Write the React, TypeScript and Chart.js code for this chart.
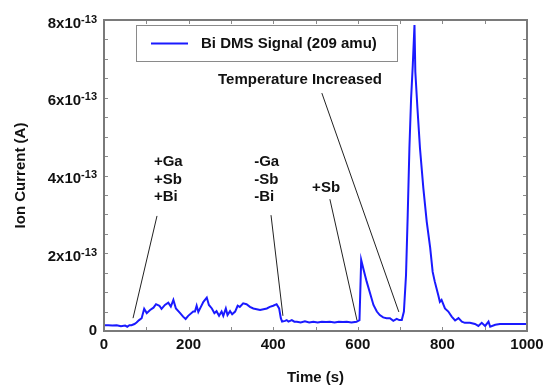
import React, { useEffect, useRef } from "react";
import { Chart, registerables } from "chart.js";

Chart.register(...registerables);

// Time in seconds
const timeSeconds = [
  0, 10, 20, 30, 40, 50, 55, 60, 65, 72, 77, 83, 89, 95, 101, 109, 117, 123, 131, 136,
  144, 152, 158, 164, 170, 180, 187, 193, 199, 211, 215, 219, 223, 229, 235, 243, 248, 255, 261, 266,
  272, 278, 282, 288, 292, 298, 303, 310, 316, 321, 329, 337, 345, 353, 361, 369, 377, 385, 392, 400,
  408, 414, 418, 421, 428, 432, 436, 444, 450, 456, 465, 475, 485, 495, 505, 515, 525, 534, 545, 555,
  565, 574, 585, 597, 604, 608, 613, 621, 629, 637, 645, 652, 660, 668, 676, 684, 692, 698, 704, 709,
  714, 718, 722, 726, 730, 734, 736, 741, 747, 755, 763, 771, 777, 782, 790, 794, 798, 806, 814, 822,
  830, 838, 846, 853, 865, 877, 885, 893, 901, 909, 913, 925, 936, 944, 960, 980, 1000,
];

// Ion current in units of 1e-13 A
const ionCurrentE13 = [
  0.15, 0.15, 0.14, 0.15, 0.12, 0.14, 0.11, 0.15, 0.15, 0.18, 0.22, 0.28, 0.33, 0.57, 0.46, 0.54, 0.6, 0.69, 0.65, 0.57,
  0.67, 0.73, 0.63, 0.8, 0.58, 0.46, 0.37, 0.31, 0.39, 0.5, 0.5, 0.65, 0.49, 0.62, 0.75, 0.86, 0.67, 0.58, 0.46, 0.51,
  0.39, 0.5, 0.39, 0.58, 0.41, 0.51, 0.43, 0.5, 0.65, 0.62, 0.71, 0.69, 0.62, 0.58, 0.56, 0.54, 0.56, 0.58, 0.62, 0.65,
  0.69, 0.58, 0.33, 0.24, 0.26, 0.28, 0.24, 0.28, 0.24, 0.24, 0.22, 0.25, 0.22, 0.24, 0.22, 0.24, 0.23, 0.24, 0.22, 0.24,
  0.23, 0.24, 0.22, 0.24, 0.28, 1.83, 1.61, 1.27, 0.97, 0.67, 0.5, 0.41, 0.35, 0.33, 0.33, 0.26, 0.31, 0.28, 0.28, 0.5,
  1.44, 2.98, 4.7, 5.98, 6.84, 7.87, 6.67, 5.73, 4.7, 3.67, 2.81, 2.15, 1.52, 1.27, 0.93, 0.75, 0.8, 0.58, 0.5, 0.37,
  0.27, 0.33, 0.24, 0.21, 0.21, 0.18, 0.13, 0.21, 0.13, 0.24, 0.11, 0.16, 0.18, 0.18, 0.18, 0.18, 0.18,
];

const seriesLabel = "Bi DMS Signal (209 amu)";
const xTickLabels = [0, 200, 400, 600, 800, 1000];
const yTickMantissas = [0, 2, 4, 6, 8];
const yExponent = "-13";
const xTitle = "Time (s)";
const yTitle = "Ion Current (A)";

// Annotations: text lines with anchor (time, current e-13)
const annotationTexts = [
  { lines: ["+Ga", "+Sb", "+Bi"], t: 118, v: 4.34 },
  { lines: ["-Ga", "-Sb", "-Bi"], t: 355, v: 4.34 },
  { lines: ["+Sb"], t: 492, v: 3.68 },
  { lines: ["Temperature Increased"], t: 269.5, v: 6.45 },
];
// Pointer lines: [t1, v1, t2, v2]
const pointerLines = [
  [125.3, 2.96, 68.6, 0.33],
  [394.8, 2.98, 423, 0.39],
  [534, 3.39, 598, 0.28],
  [515, 6.12, 697, 0.49],
];

const FONT = '"Liberation Sans", Arial, sans-serif';
const TEXT = "#111";

const decorPlugin = {
  id: "decor",
  afterDatasetsDraw(chart: any) {
    const { ctx, chartArea: ca, scales } = chart;
    const x = scales.x;
    const y = scales.y;
    ctx.save();

    // inward ticks on all four sides
    ctx.strokeStyle = "#8a8a8a";
    ctx.lineWidth = 1;
    const tl = 4;
    for (let t = 0; t <= 1000; t += 100) {
      const px = Math.round(x.getPixelForValue(t)) + 0.5;
      ctx.beginPath();
      ctx.moveTo(px, ca.bottom);
      ctx.lineTo(px, ca.bottom - tl);
      ctx.moveTo(px, ca.top);
      ctx.lineTo(px, ca.top + tl);
      ctx.stroke();
    }
    for (let v = 0; v <= 8; v += 0.5) {
      const py = Math.round(y.getPixelForValue(v * 1e-13)) + 0.5;
      ctx.beginPath();
      ctx.moveTo(ca.left, py);
      ctx.lineTo(ca.left + tl, py);
      ctx.moveTo(ca.right, py);
      ctx.lineTo(ca.right - tl, py);
      ctx.stroke();
    }

    // frame
    ctx.strokeStyle = "#7a7a7a";
    ctx.lineWidth = 2;
    ctx.strokeRect(ca.left, ca.top, ca.right - ca.left, ca.bottom - ca.top);

    // tick labels
    ctx.fillStyle = TEXT;
    ctx.textBaseline = "middle";
    ctx.font = `bold 15px ${FONT}`;
    ctx.textAlign = "center";
    for (const t of xTickLabels) {
      ctx.fillText(String(t), x.getPixelForValue(t), ca.bottom + 14);
    }
    const rightEdge = ca.left - 7;
    for (const m of yTickMantissas) {
      const py = y.getPixelForValue(m * 1e-13);
      if (m === 0) {
        ctx.font = `bold 15px ${FONT}`;
        ctx.textAlign = "right";
        ctx.fillText("0", rightEdge, py);
      } else {
        ctx.font = `bold 11px ${FONT}`;
        const supW = ctx.measureText(yExponent).width;
        ctx.textAlign = "right";
        ctx.fillText(yExponent, rightEdge, py - 0.5);
        ctx.font = `bold 15px ${FONT}`;
        ctx.fillText(`${m}x10`, rightEdge - supW, py + 3.5);
      }
    }

    // axis titles
    ctx.font = `bold 15px ${FONT}`;
    ctx.textAlign = "center";
    ctx.fillText(xTitle, (ca.left + ca.right) / 2, ca.bottom + 47);
    ctx.save();
    ctx.translate(ca.left - 83, (ca.top + ca.bottom) / 2);
    ctx.rotate(-Math.PI / 2);
    ctx.fillText(yTitle, 0, 0);
    ctx.restore();

    // annotation texts
    ctx.textAlign = "left";
    for (const a of annotationTexts) {
      const px = x.getPixelForValue(a.t);
      const py = y.getPixelForValue(a.v * 1e-13);
      a.lines.forEach((ln, i) => ctx.fillText(ln, px, py + i * 17.5));
    }
    // pointer lines
    ctx.strokeStyle = "#222";
    ctx.lineWidth = 1;
    for (const [t1, v1, t2, v2] of pointerLines) {
      ctx.beginPath();
      ctx.moveTo(x.getPixelForValue(t1), y.getPixelForValue(v1 * 1e-13));
      ctx.lineTo(x.getPixelForValue(t2), y.getPixelForValue(v2 * 1e-13));
      ctx.stroke();
    }

    // legend
    const ds = chart.data.datasets[0];
    const lx = ca.left + 32;
    const ly = ca.top + 5;
    ctx.fillStyle = "#fff";
    ctx.fillRect(lx, ly, 261, 36);
    ctx.strokeStyle = "#8a8a8a";
    ctx.lineWidth = 1;
    ctx.strokeRect(lx + 0.5, ly + 0.5, 261, 36);
    ctx.strokeStyle = ds.borderColor;
    ctx.lineWidth = 2;
    ctx.beginPath();
    ctx.moveTo(lx + 15, ly + 18.5);
    ctx.lineTo(lx + 52, ly + 18.5);
    ctx.stroke();
    ctx.fillStyle = TEXT;
    ctx.font = `bold 15px ${FONT}`;
    ctx.textAlign = "left";
    ctx.fillText(ds.label, lx + 65, ly + 18.5);

    ctx.restore();
  },
};

const bgPlugin = {
  id: "bg",
  beforeDraw(chart: any) {
    const { ctx, width, height } = chart;
    ctx.save();
    ctx.fillStyle = "#fff";
    ctx.fillRect(0, 0, width, height);
    ctx.restore();
  },
};

export default function App() {
  const ref = useRef<HTMLCanvasElement | null>(null);
  useEffect(() => {
    if (!ref.current) return;
    const points = timeSeconds.map((t, i) => ({ x: t, y: ionCurrentE13[i] * 1e-13 }));
    const chart = new Chart(ref.current, {
      type: "line",
      data: {
        datasets: [
          {
            label: seriesLabel,
            data: points,
            borderColor: "#1a1aff",
            borderWidth: 2,
            pointRadius: 0,
            tension: 0,
            fill: false,
          },
        ],
      },
      options: {
        animation: false,
        responsive: false,
        layout: { padding: { left: 104, top: 20, right: 18, bottom: 54 } },
        plugins: { legend: { display: false }, tooltip: { enabled: false } },
        scales: {
          x: { type: "linear", min: 0, max: 1000, display: false },
          y: { type: "linear", min: 0, max: 8e-13, display: false },
        },
      },
      plugins: [bgPlugin, decorPlugin],
    });
    return () => chart.destroy();
  }, []);
  return (
    <div style={{ position: "fixed", left: 0, top: 0, width: 545, height: 385, background: "#fff" }}>
      <canvas ref={ref} width={545} height={385} style={{ display: "block" }} />
    </div>
  );
}
